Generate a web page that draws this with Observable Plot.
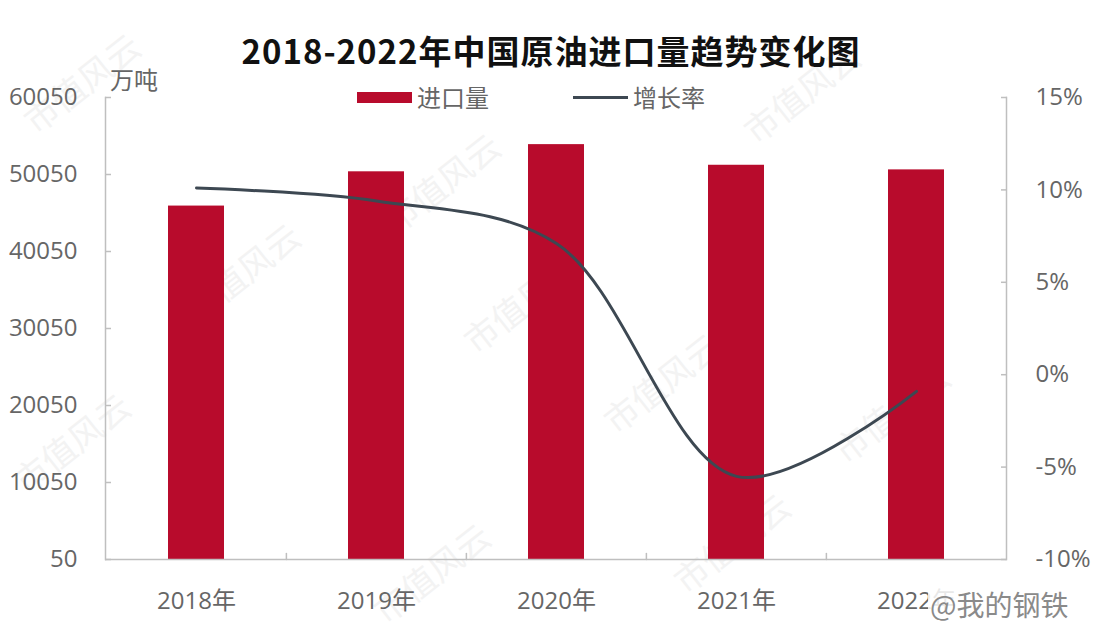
<!DOCTYPE html>
<html>
<head>
<meta charset="utf-8">
<script src="https://cdn.jsdelivr.net/npm/d3@7"></script>
<script src="https://cdn.jsdelivr.net/npm/@observablehq/plot@0.6"></script>
<style>
  html, body { margin: 0; padding: 0; background: #fff; }
  #wrap { position: relative; width: 1102px; height: 642px; overflow: hidden;
          font-family: "Open Sans", "Noto Sans CJK SC", sans-serif; color: #595959; }
  #bgmarks { position: absolute; left: 0; top: 0; width: 1102px; height: 642px; }
  .bgw { position: absolute; font-family: "Noto Sans CJK SC", sans-serif; font-size: 34px; color: #f3f3f3;
         transform: rotate(-38deg); transform-origin: left bottom; white-space: nowrap; line-height: 40px; }
  #chart { position: absolute; left: 0; top: 0; }
  .ov { position: absolute; white-space: nowrap; }
  #title { left: 0; width: 1102px; top: 27px; text-align: center; font-family: "Noto Sans CJK SC", sans-serif;
           font-size: 33px; font-weight: bold; color: #111; letter-spacing: 1px; line-height: 46px; }
  #unit { left: 110px; top: 64px; font-family: "Noto Sans CJK SC", sans-serif; font-size: 24px; line-height: 30px; color: #666; }
  .lg { font-family: "Noto Sans CJK SC", sans-serif; font-size: 24px; line-height: 30px; color: #666; top: 82px; }
  #swBar { position: absolute; left: 357px; top: 92px; width: 55px; height: 11px; background: #b80b2c; }
  #swLine { position: absolute; left: 573px; top: 96px; width: 55px; height: 3px; background: #3d4852; }
  #wm { left: 928px; top: 587px; font-family: "Noto Sans CJK SC", sans-serif; font-size: 28px; line-height: 34px;
        color: #8a8a8a; background: rgba(255,255,255,0.85); padding: 0 2px; }
</style>
</head>
<body>
<div id="wrap">
  <div id="bgmarks"></div>
  <div id="chart"></div>
  <div id="title" class="ov">2018-2022年中国原油进口量趋势变化图</div>
  <div id="unit" class="ov">万吨</div>
  <div id="swBar"></div>
  <div class="ov lg" style="left:417px;">进口量</div>
  <div id="swLine"></div>
  <div class="ov lg" style="left:633px;">增长率</div>
  <div id="wm" class="ov">@我的钢铁</div>
</div>
<script>
// ---- data ----
const years = ["2018年", "2019年", "2020年", "2021年", "2022年"];
const imports = [45950, 50400, 53930, 51250, 50650];      // 万吨
const growth = [10.1, 9.4, 7.1, -5.5, -0.9];               // %
const leftTicks = [50, 10050, 20050, 30050, 40050, 50050, 60050];
const rightTicks = [-10, -5, 0, 5, 10, 15];
const watermarkText = "市值风云";

// ---- faint background watermarks ----
const bg = document.getElementById("bgmarks");
const wmSpots = [[40, 140], [400, 240], [760, 150], [30, 500], [480, 360], [850, 470], [200, 330], [390, 630], [690, 600], [620, 440]];
wmSpots.forEach(([l, b]) => {
  const d = document.createElement("div");
  d.className = "bgw";
  d.textContent = watermarkText;
  d.style.left = l + "px";
  d.style.top = (b - 40) + "px";
  bg.appendChild(d);
});

// ---- layout ----
const W = 1102, H = 642;
const mL = 105, mR = 96, mT = 97, mB = 83;
const step = (W - mL - mR) / years.length;
const red = "#b80b2c", lineColor = "#3d4852", axisColor = "#bfbfbf", labelColor = "#666666";

// secondary axis mapping (growth % -> primary scale)
const yMin = leftTicks[0], yMax = leftTicks[leftTicks.length - 1];
const gMin = rightTicks[0], gMax = rightTicks[rightTicks.length - 1];
const toY = g => yMin + (g - gMin) / (gMax - gMin) * (yMax - yMin);
const fromY = v => gMin + (v - yMin) / (yMax - yMin) * (gMax - gMin);

const barData = years.map((y, i) => ({year: y, value: imports[i]}));
const lineData = years.map((y, i) => ({year: y, g: growth[i]}));

const tickShape = {draw(ctx, l) { ctx.moveTo(0, 0); ctx.lineTo(0, -l); }};

const chart = Plot.plot({
  width: W, height: H,
  marginLeft: mL, marginRight: mR, marginTop: mT, marginBottom: mB,
  style: {fontFamily: '"Open Sans", "Noto Sans CJK SC", sans-serif', fontSize: "24px", color: labelColor, background: "transparent", overflow: "visible"},
  x: {domain: years, paddingInner: 0.69, paddingOuter: 0.345, label: null},
  y: {domain: [yMin, yMax], label: null},
  marks: [
    Plot.frame({anchor: "left", stroke: axisColor, strokeWidth: 1.5}),
    Plot.frame({anchor: "right", stroke: axisColor, strokeWidth: 1.5}),
    Plot.barY(barData, {x: "year", y: "value", fill: red}),
    Plot.ruleY([yMin], {stroke: axisColor, strokeWidth: 1.5}),
    Plot.vector(years.slice(1), {x: d => d, y: () => yMin, length: 6, rotate: 0, anchor: "start", dx: -step / 2, shape: tickShape, stroke: axisColor, strokeWidth: 1.5}),
    Plot.line(lineData, {x: "year", y: d => toY(d.g), curve: "catmull-rom", stroke: lineColor, strokeWidth: 3}),
    Plot.axisY(leftTicks, {anchor: "left", tickSize: -6, tickPadding: 34, tickFormat: d => String(d), stroke: axisColor, strokeWidth: 1.5, fill: labelColor, label: null}),
    Plot.axisY(rightTicks.map(toY), {anchor: "right", tickSize: -6, tickPadding: 35, tickFormat: d => Math.round(fromY(d)) + "%", stroke: axisColor, strokeWidth: 1.5, fill: labelColor, label: null}),
    Plot.axisX({tickSize: 0, tickPadding: 32, fill: labelColor, label: null})
  ]
});
document.getElementById("chart").appendChild(chart);
</script>
</body>
</html>
